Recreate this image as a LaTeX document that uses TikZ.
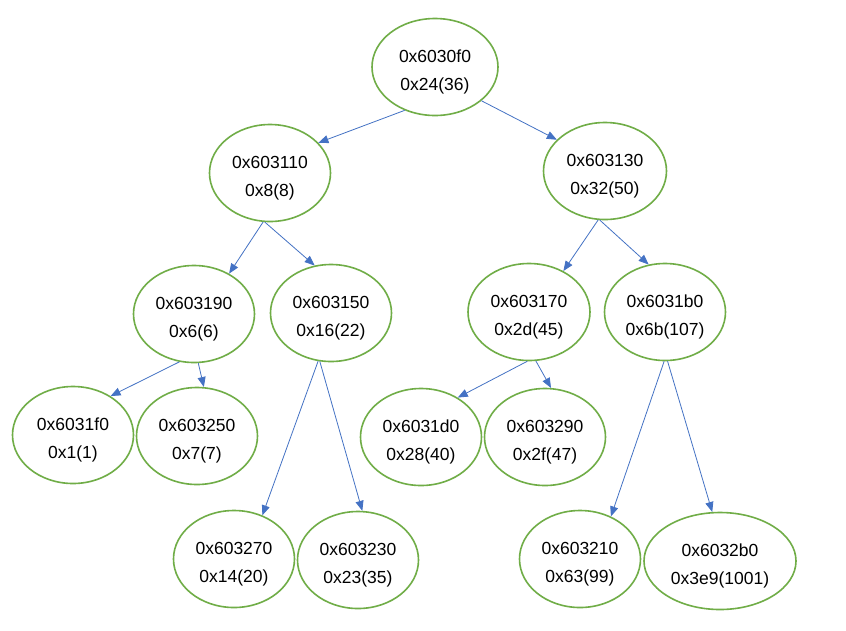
\documentclass[tikz,border=0pt]{standalone}
\usepackage{fontspec}
\setmainfont{Liberation Sans}
\usetikzlibrary{shapes.geometric,arrows.meta}
\definecolor{nodegreen}{RGB}{112,173,71}
\definecolor{arrowblue}{RGB}{68,114,196}
\newcommand\twolines[2]{\raisebox{-4pt}[\height][\depth]{\begin{tabular}{@{}c@{}}#1\\#2\end{tabular}}}
\tikzset{
  treenode/.style={ellipse,draw=nodegreen,line width=1.6pt,minimum width=121pt,minimum height=97pt,inner sep=0pt,align=center,font=\fontsize{17.5}{28.5}\selectfont},
  widenode/.style={treenode,minimum width=152pt},
  link/.style={draw=arrowblue,line width=0.8pt,-{Triangle[length=10pt,width=8pt]}}
}
\begin{document}
\begin{tikzpicture}[x=1pt,y=-1pt]
\useasboundingbox[fill=white] (0,0) rectangle (846,630);
\node[treenode,minimum width=126pt] (r) at (435,67) {\twolines{0x6030f0}{0x24(36)}};
\node[treenode] (a) at (270,173) {\twolines{0x603110}{0x8(8)}};
\node[treenode,minimum width=123pt] (b) at (605,171) {\twolines{0x603130}{0x32(50)}};
\node[treenode] (c) at (194,314) {\twolines{0x603190}{0x6(6)}};
\node[treenode] (d) at (331,313) {\twolines{0x603150}{0x16(22)}};
\node[treenode,minimum width=122pt] (e) at (529,312) {\twolines{0x603170}{0x2d(45)}};
\node[treenode] (f) at (665,312) {\twolines{0x6031b0}{0x6b(107)}};
\node[treenode] (g) at (73,435) {\twolines{0x6031f0}{0x1(1)}};
\node[treenode] (h) at (197,436) {\twolines{0x603250}{0x7(7)}};
\node[treenode] (i) at (421,437) {\twolines{0x6031d0}{0x28(40)}};
\node[treenode] (j) at (545,437) {\twolines{0x603290}{0x2f(47)}};
\node[treenode] (k) at (234,559) {\twolines{0x603270}{0x14(20)}};
\node[treenode] (l) at (358,560) {\twolines{0x603230}{0x23(35)}};
\node[treenode] (m) at (580,559) {\twolines{0x603210}{0x63(99)}};
\node[widenode] (n) at (720,561) {\twolines{0x6032b0}{0x3e9(1001)}};
\draw[link] (r.235) -- (a.32);
\draw[link] (r.-36) -- (b.147);
\draw[link] (a.262) -- (c.49);
\draw[link] (a.264) -- (d.109);
\draw[link] (b.262) -- (e.50);
\draw[link] (b.264) -- (f.109);
\draw[link] (c.253) -- (g.46);
\draw[link] (c.275) -- (h.82);
\draw[link] (d.255) -- (k.57);
\draw[link] (d.257) -- (l.85);
\draw[link] (e.268) -- (i.47);
\draw[link] (e.278) -- (j.83);
\draw[link] (f.269) -- (m.54);
\draw[link] (f.273) -- (n.99);
\end{tikzpicture}
\end{document}
